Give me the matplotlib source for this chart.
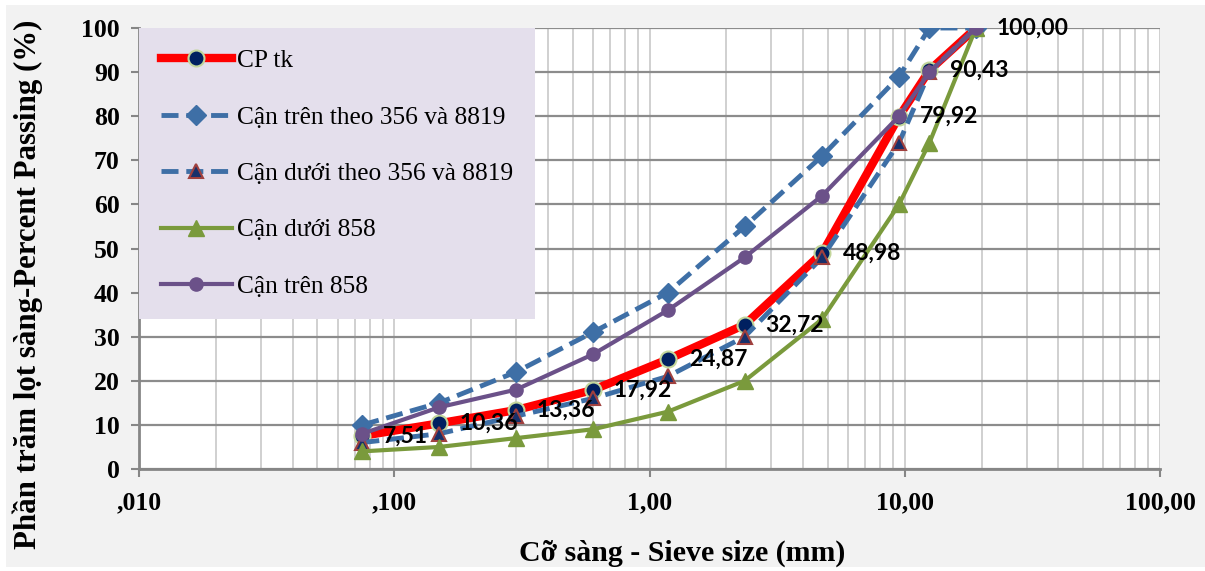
import matplotlib
matplotlib.use("Agg")
import matplotlib.pyplot as plt
import matplotlib.patches as mpatches
from matplotlib.ticker import FixedLocator, LogLocator, NullFormatter

# Kich thuoc sang (mm)
co_sang = [0.075, 0.15, 0.3, 0.6, 1.18, 2.36, 4.75, 9.5, 12.5, 19.0]

# Cac duong cap phoi (% lot sang)
cp_tk = [7.51, 10.36, 13.36, 17.92, 24.87, 32.72, 48.98, 79.92, 90.43, 100.00]
can_tren_356 = [10, 15, 22, 31, 40, 55, 71, 89, 100, 100]
can_duoi_356 = [6, 8, 12, 16, 21, 30, 48, 74, 90, 100]
can_duoi_858 = [4, 5, 7, 9, 13, 20, 34, 60, 74, 100]
can_tren_858 = [8, 14, 18, 26, 36, 48, 62, 80, 90, 100]

ten_series = ["CP tk", "Cận trên theo 356 và 8819", "Cận dưới theo 356 và 8819",
              "Cận dưới 858", "Cận trên 858"]

x_ticks = [0.01, 0.1, 1, 10, 100]
x_ticklabels = [",010", ",100", "1,00", "10,00", "100,00"]
y_ticks = list(range(0, 101, 10))

fig = plt.figure(figsize=(12.05, 5.71), dpi=100, facecolor="white")
# nen xam cua khung bieu do
fig.patches.append(mpatches.Rectangle((6 / 1205, 4 / 571), 1 - 6 / 1205, 1 - 9 / 571,
                                      transform=fig.transFigure, facecolor="#f2f2f2",
                                      edgecolor="none", zorder=-10))
ax = fig.add_axes([139 / 1205, 1 - 469 / 571, (1160 - 139) / 1205, (469 - 28) / 571])
ax.set_facecolor("white")

# Ve cac duong
ax.plot(co_sang, cp_tk, color="#ff0000", lw=6, marker="o", ms=11.5,
        mfc="#002060", mec="#c3d69b", mew=1.5, label=ten_series[0], zorder=3)
ax.plot(co_sang, can_tren_356, color="#3e6fa6", lw=3.5, dashes=[3.5, 1.6],
        marker="D", ms=10, mfc="#3e6fa6", mec="#3e6fa6", label=ten_series[1], zorder=4)
ax.plot(co_sang, can_duoi_356, color="#3e6fa6", lw=3.5, dashes=[3.5, 1.6],
        marker="^", ms=9.5, mfc="#17306b", mec="#a0403e", mew=1.5, label=ten_series[2], zorder=5)
ax.plot(co_sang, can_duoi_858, color="#7a9a3c", lw=3, marker="^", ms=12,
        mfc="#7a9a3c", mec="#7a9a3c", label=ten_series[3], zorder=6)
ax.plot(co_sang, can_tren_858, color="#6b5189", lw=3, marker="o", ms=9.5,
        mfc="#6b5189", mec="#6b5189", label=ten_series[4], zorder=7)

# Nhan du lieu cho CP tk
for xv, yv in zip(co_sang, cp_tk):
    ax.annotate(f"{yv:.2f}".replace(".", ","), (xv, yv), xytext=(15, 0),
                textcoords="offset points", ha="left", va="center",
                fontsize=16.5, fontweight="bold", family="Lato", color="black", zorder=8)

# Truc
ax.set_xscale("log")
ax.set_xlim(0.01, 100)
ax.set_ylim(0, 100)
ax.xaxis.set_major_locator(FixedLocator(x_ticks))
ax.set_xticklabels(x_ticklabels)
ax.xaxis.set_minor_locator(LogLocator(base=10, subs=range(2, 10), numticks=20))
ax.xaxis.set_minor_formatter(NullFormatter())
ax.set_yticks(y_ticks)

ax.grid(True, axis="x", which="both", color="#c8c8c8", lw=1.2, zorder=1)
ax.grid(True, axis="y", which="major", color="#8c8c8c", lw=1.6, zorder=1)
ax.set_axisbelow(True)

for s in ["top", "right"]:
    ax.spines[s].set_visible(False)
for s in ["left", "bottom"]:
    ax.spines[s].set_color("#868686")
    ax.spines[s].set_linewidth(2)

ax.tick_params(axis="both", which="major", direction="out", length=6, width=1.5,
               color="#868686", labelsize=18.5)
ax.tick_params(axis="x", which="minor", length=0)
ax.tick_params(axis="x", which="major", pad=10)
ax.tick_params(axis="y", which="major", pad=8)
for lab in ax.get_xticklabels() + ax.get_yticklabels():
    lab.set_fontfamily("Liberation Serif")
    lab.set_fontweight("bold")

# Ten truc
fig.text(28 / 1205, 1 - 284 / 571, "Phần trăm lọt sàng-Percent Passing (%)",
         rotation=90, ha="center", va="center", fontsize=22.2, fontweight="bold",
         family="Liberation Serif")
fig.text(682 / 1205, 1 - 553 / 571, "Cỡ sàng - Sieve size (mm)",
         ha="center", va="center", fontsize=21.5, fontweight="bold",
         family="Liberation Serif")

# Chu thich
leg = ax.legend(loc="upper left", bbox_to_anchor=(0, 1), borderaxespad=0,
                prop={"family": "Liberation Serif", "size": 18.3},
                handlelength=2.8, handletextpad=0.2, labelspacing=1.32,
                borderpad=0.85, numpoints=1, fancybox=False)
leg.get_frame().set_facecolor("#e4dfec")
leg.get_frame().set_edgecolor("none")
leg.get_frame().set_alpha(1)
leg.set_zorder(10)

fig.savefig("out.png", dpi=100, facecolor=fig.get_facecolor())
